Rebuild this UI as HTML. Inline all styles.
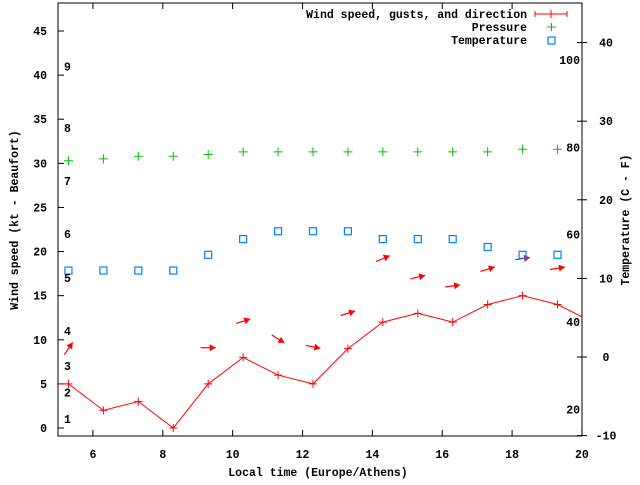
<!DOCTYPE html>
<html><head><meta charset="utf-8"><style>
body{margin:0;background:#fff}
svg text{font-family:"Liberation Mono",monospace;font-weight:bold;font-size:11.5px;fill:#000}
</style></head><body>
<svg id="chart" width="640" height="480" viewBox="0 0 640 480">
<defs><clipPath id="clip"><rect x="58" y="3" width="524" height="433"/></clipPath></defs>
<g id="grid"></g>
<g id="marks" clip-path="url(#clip)"></g>
<rect x="58" y="3" width="524" height="433" fill="none" stroke="#000" stroke-width="1"/>
<text transform="translate(18,220) rotate(-90)" text-anchor="middle">Wind speed (kt - Beaufort)</text>
<text transform="translate(629,220) rotate(-90)" text-anchor="middle">Temperature (C - F)</text>
<text x="318" y="476" text-anchor="middle">Local time (Europe/Athens)</text>
<g>
<text x="527" y="18" text-anchor="end">Wind speed, gusts, and direction</text>
<path d="M535,14H567M535,11V17M567,11V17M551,10V18" stroke="#f00" fill="none"/>
<text x="527" y="31" text-anchor="end">Pressure</text>
<path d="M547,27H556M551.5,23V31" stroke="#00c000"/>
<text x="527" y="44" text-anchor="end">Temperature</text>
<rect x="548" y="37" width="7" height="7" fill="none" stroke="#0080ff" stroke-width="1.2"/>
</g>
</svg>
<script>
const hours=[4.3,5.3,6.3,7.3,8.3,9.3,10.3,11.3,12.3,13.3,14.3,15.3,16.3,17.3,18.3,19.3,20.3];
const wind=[5,5,2,3,0,5,8,6,5,9,12,13,12,14,15,14,12];
const gustHours=[5.3,9.3,10.3,11.3,12.3,13.3,14.3,15.3,16.3,17.3,18.3,19.3];
const gusts=[9,9.1,12.1,10.1,9.2,13,19.2,17.1,16.1,18,19.2,18.1];
const dirs=[56,0,18,-32,-12,17,23,13,8,17,9,9];
const ptHours=[5.3,6.3,7.3,8.3,9.3,10.3,11.3,12.3,13.3,14.3,15.3,16.3,17.3,18.3,19.3];
const pressure=[30.3,30.5,30.8,30.8,31.0,31.3,31.3,31.3,31.3,31.3,31.3,31.3,31.3,31.6,31.6];
const temps=[11,11,11,11,13,15,16,16,16,15,15,15,14,13,13];
const xTicks=[6,8,10,12,14,16,18,20];
const yTicks=[0,5,10,15,20,25,30,35,40,45];
const y2Ticks=[-10,0,10,20,30,40];
const fTicks=[20,40,60,80,100];
const beaufort=[[1,1],[2,4],[3,7],[4,11],[5,17],[6,22],[7,28],[8,34],[9,41]];
const X=h=>58+(h-5)*34.93;
const Y=v=>428-v*8.822;
const YT=c=>357-c*7.86;
const NS="http://www.w3.org/2000/svg";
const grid=document.getElementById('grid'),marks=document.getElementById('marks'),svg=document.getElementById('chart');
function mk(tag,attrs,parent){const e=document.createElementNS(NS,tag);for(const k in attrs)e.setAttribute(k,attrs[k]);parent.appendChild(e);return e;}
function txt(s,x,y,anchor,name){const t=mk('text',{x:x,y:y,'text-anchor':anchor},svg);t.textContent=s;

return t;}
xTicks.forEach(h=>{const x=X(h);
const t=mk('path',{d:`M${x},436V430M${x},3V9`,stroke:'#000'},grid);


txt(String(h),x,458,'middle','x-tick-label');});
yTicks.forEach(v=>{const y=Y(v);
const t=mk('path',{d:`M58,${y}H64`,stroke:'#000'},grid);


txt(String(v),47,y+4,'end','y-tick-label');});
y2Ticks.forEach(c=>{const y=YT(c);
const t=mk('path',{d:`M577,${y}H587`,stroke:'#000'},grid);


txt(String(c),606,y+4,'middle','y2-tick-label');});
fTicks.forEach(f=>{const y=YT((f-32)*5/9);txt(String(f),580,y+4,'end','fahrenheit-label');});
beaufort.forEach(b=>{txt(String(b[0]),64,Y(b[1])+4,'start','beaufort-label');});
const line=mk('polyline',{points:hours.map((h,i)=>X(h)+','+Y(wind[i])).join(' '),fill:'none',stroke:'#f00','stroke-width':1},marks);


hours.forEach((h,i)=>{const x=X(h),y=Y(wind[i]);
const p=mk('path',{d:`M${x-4},${y}H${x+4}M${x},${y-4}V${y+4}`,stroke:'#f00'},marks);

});
gustHours.forEach((h,i)=>{const cx=X(h),cy=Y(gusts[i]),a=dirs[i]*Math.PI/180,L=15;
const dx=Math.cos(a)*L/2,dy=-Math.sin(a)*L/2;
const x1=cx-dx,y1=cy-dy,x2=cx+dx,y2=cy+dy;
const ux=Math.cos(a),uy=-Math.sin(a),px=-uy,py=ux;
const g=mk('g',{},marks);


mk('line',{x1:x1,y1:y1,x2:x2,y2:y2,stroke:'#f00','stroke-width':1.2},g);
mk('polygon',{points:`${x2},${y2} ${x2-ux*6+px*3.5},${y2-uy*6+py*3.5} ${x2-ux*6-px*3.5},${y2-uy*6-py*3.5}`,fill:'#f00'},g);});
ptHours.forEach((h,i)=>{const x=X(h),y=Y(pressure[i]);
const p=mk('path',{d:`M${x-4.5},${y}H${x+4.5}M${x},${y-4.5}V${y+4.5}`,stroke:'#00c000'},marks);

});
ptHours.forEach((h,i)=>{const x=X(h),y=YT(temps[i]);
const r=mk('rect',{x:x-3.5,y:y-3.5,width:7,height:7,fill:'none',stroke:'#0080ff','stroke-width':1.2},marks);

});
</script>
</body></html>
